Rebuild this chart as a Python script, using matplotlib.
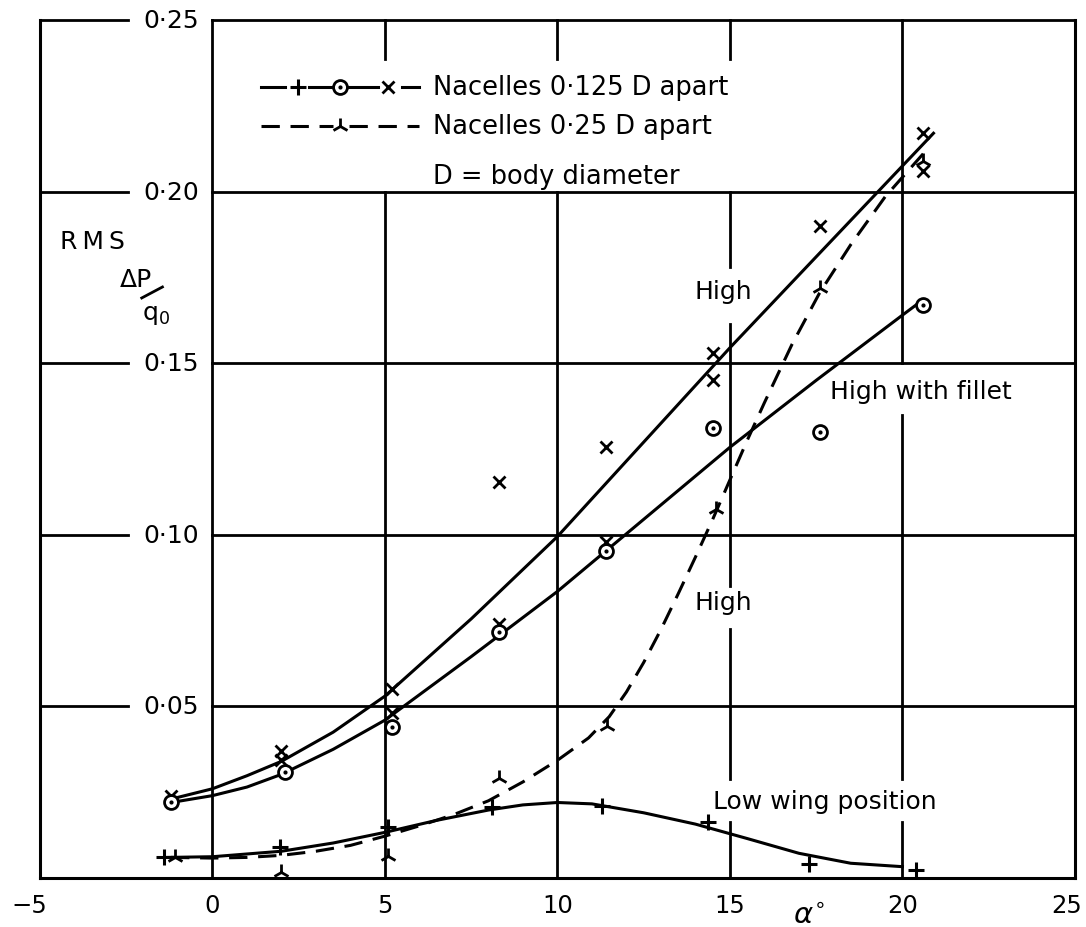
import matplotlib.pyplot as plt
import matplotlib.transforms as mtransforms

# ---------- data: alpha (deg) vs RMS dP/q0 ----------

# nacelles 0.125D apart, high wing (x markers)
high_x = [-1.2, 2.0, 5.2, 8.3, 11.4, 14.5, 14.5, 17.6, 20.6, 20.6]
high_y = [0.024, 0.037, 0.055, 0.1155, 0.1257, 0.153, 0.145, 0.190, 0.217, 0.206]
# x markers sitting on top of the fillet circles
high2_x = [2.0, 5.2, 8.3, 11.4]
high2_y = [0.0345, 0.048, 0.074, 0.098]
high_curve_x = [-1.2, 0, 1, 2, 3.5, 5, 7.5, 10, 12.5, 15, 17.5, 19.2, 20.9]
high_curve_y = [0.023, 0.026, 0.0298, 0.034, 0.0425, 0.053, 0.0755, 0.0995, 0.127, 0.1545,
                0.181, 0.199, 0.217]

# nacelles 0.125D apart, high wing with fillet (circles)
fillet_x = [-1.2, 2.1, 5.2, 8.3, 11.4, 14.5, 17.6, 20.6]
fillet_y = [0.022, 0.031, 0.044, 0.0717, 0.0953, 0.131, 0.130, 0.167]
fillet_curve_x = [-1.2, 0, 1, 2, 3.5, 5, 7.5, 10, 12.5, 15, 17.5, 20, 20.6]
fillet_curve_y = [0.022, 0.024, 0.0265, 0.0302, 0.0375, 0.046, 0.0645, 0.0835, 0.1045, 0.1255,
                  0.145, 0.164, 0.1685]

# nacelles 0.125D apart, low wing position (plus markers)
low_x = [-1.4, 1.95, 5.1, 8.1, 11.3, 14.35, 17.3, 20.4]
low_y = [0.006, 0.009, 0.0148, 0.0207, 0.021, 0.0163, 0.0041, 0.0023]
low_curve_x = [-1.3, 0, 2, 3.5, 5, 6.5, 8, 9, 10, 11, 12.5, 14, 15.5, 17, 18.5, 20]
low_curve_y = [0.006, 0.0062, 0.0078, 0.0102, 0.0133, 0.0168, 0.0198, 0.0213, 0.0220, 0.0216,
               0.0190, 0.0157, 0.0115, 0.0072, 0.0043, 0.0033]

# nacelles 0.25D apart, high wing (tri markers, dashed)
wide_x = [-1.1, 2.0, 5.1, 8.3, 11.45, 14.6, 17.6, 20.6]
wide_y = [0.006, 0.0017, 0.0064, 0.029, 0.0443, 0.1076, 0.172, 0.209]
wide_curve_x = [-1.2, 0, 1, 2, 3, 4, 5, 6, 7, 8, 9, 10, 10.9, 11.5, 12, 12.5, 13, 13.5,
                14, 14.5, 15, 15.5, 16, 16.8, 17.6, 18.5, 19.5, 20.6]
wide_curve_y = [0.006, 0.0058, 0.006, 0.0066, 0.0078, 0.0095, 0.0122, 0.0152, 0.0185, 0.0225,
                0.028, 0.0343, 0.0408, 0.0470, 0.0542, 0.0628, 0.0724, 0.0828, 0.0935, 0.1045,
                0.116, 0.1275, 0.1385, 0.1555, 0.1705, 0.1845, 0.1985, 0.211]

x_ticks = [-5, 0, 5, 10, 15, 20, 25]
x_labels = ["\u22125", "0", "5", "10", "15", "20", "25"]
y_ticks = [0.05, 0.10, 0.15, 0.20, 0.25]
y_labels = ["0\u00b705", "0\u00b710", "0\u00b715", "0\u00b720", "0\u00b725"]

# ---------- figure ----------
plt.rcParams["font.family"] = ["DejaVu Sans"]
LW = 2.2
FS = 18

fig = plt.figure(figsize=(10.86, 9.28), dpi=100)
ax = fig.add_axes([0.0368, 0.0528, 0.953, 0.9246])
ax.set_xlim(-5, 25)
ax.set_ylim(0, 0.25)

for side in ["left", "right", "bottom"]:
    ax.spines[side].set_linewidth(LW)
ax.spines["top"].set_visible(False)
ax.set_xticks([])
ax.set_yticks([])


def vline(x, spans):
    for y0, y1 in spans:
        ax.plot([x, x], [y0, y1], color="black", lw=2.0, clip_on=False, zorder=1)


def hline(y, spans):
    for x0, x1 in spans:
        ax.plot([x0, x1], [y, y], color="black", lw=2.0, clip_on=False, zorder=1)


# grid, broken where the labels sit
for v in y_ticks:
    hline(v, [(-5, -2.45), (0, 25)])
vline(0, [(0, 0.25)])
vline(5, [(0, 0.20), (0.2386, 0.25)])
vline(10, [(0, 0.20), (0.2386, 0.25)])
vline(15, [(0, 0.0163), (0.0288, 0.0725), (0.085, 0.1614), (0.178, 0.20), (0.2386, 0.25)])
vline(20, [(0, 0.0163), (0.0288, 0.135), (0.15, 0.25)])

# y labels sit inside the frame, x labels below it (end ones nudged in, in points)
for v, lab in zip(y_ticks, y_labels):
    ax.text(-1.2, v, lab, fontsize=FS, ha="center", va="center")
nudge = {0: -8, len(x_ticks) - 1: -6}
for i, (t, lab) in enumerate(zip(x_ticks, x_labels)):
    tr = mtransforms.offset_copy(ax.get_xaxis_transform(), fig=fig, x=nudge.get(i, 0), y=0,
                                 units="points")
    ax.text(t, -0.031, lab, fontsize=17.5, ha="center", va="center", transform=tr)

# ---------- curves ----------
ax.plot(high_curve_x, high_curve_y, color="black", lw=LW, zorder=3)
ax.plot(fillet_curve_x, fillet_curve_y, color="black", lw=LW, zorder=3)
ax.plot(low_curve_x, low_curve_y, color="black", lw=LW, zorder=3)
ax.plot(wide_curve_x, wide_curve_y, color="black", lw=LW, dashes=[6, 3.5], zorder=3)

# ---------- markers ----------
ax.plot(high_x, high_y, "x", color="black", ms=9, mew=2, zorder=4)
ax.plot(high2_x, high2_y, "x", color="black", ms=8, mew=2, zorder=4)
ax.plot(fillet_x, fillet_y, "o", mfc="white", mec="black", ms=10, mew=2, zorder=5)
ax.plot(fillet_x, fillet_y, ".", color="black", ms=4, zorder=6)
ax.plot(low_x, low_y, "+", color="black", ms=12, mew=2.2, zorder=4, clip_on=False)
ax.plot(wide_x, wide_y, "2", color="black", ms=12, mew=2, zorder=4, clip_on=False)

# ---------- key ----------
r1, r2, r3 = 0.2304, 0.219, 0.2045
for x0, x1 in [(1.4, 2.1), (2.8, 4.8), (5.5, 6.0)]:
    ax.plot([x0, x1], [r1, r1], color="black", lw=LW)
ax.plot([2.47], [r1], "+", color="black", ms=12, mew=2.2)
ax.plot([3.7], [r1], "o", mfc="white", mec="black", ms=10, mew=2, zorder=5)
ax.plot([3.7], [r1], ".", color="black", ms=4, zorder=6)
ax.plot([5.1], [r1], "x", color="black", ms=8, mew=2)
for x0, x1 in [(1.4, 3.5), (3.95, 6.0)]:
    ax.plot([x0, x1], [r2, r2], color="black", lw=LW, dashes=[6, 3.5])
ax.plot([3.7], [r2], "2", color="black", ms=12, mew=2)
ax.text(6.4, r1, "Nacelles 0\u00b7125 D apart", fontsize=18.5, va="center")
ax.text(6.4, r2, "Nacelles 0\u00b725 D apart", fontsize=18.5, va="center")
ax.text(6.4, r3, "D = body diameter", fontsize=18.5, va="center")

# ---------- curve labels ----------
ax.text(14.8, 0.171, "High", fontsize=FS, ha="center", va="center")
ax.text(14.8, 0.0804, "High", fontsize=FS, ha="center", va="center")
ax.text(17.9, 0.142, "High with fillet", fontsize=FS, va="center")
ax.text(14.5, 0.0224, "Low wing position", fontsize=FS, va="center")

# y axis caption
ax.text(-4.42, 0.1856, "R\u2009M\u2009S", fontsize=FS, va="center")
ax.text(-2.7, 0.1745, "\u0394P", fontsize=FS, va="center")
ax.plot([-2.05, -1.45], [0.1690, 0.1722], color="black", lw=2)
ax.text(-2.05, 0.1643, r"q$_{0}$", fontsize=FS, va="center")

# x axis caption
ax.text(17.3, -0.0105, r"$\alpha^{\circ}$", fontsize=21, ha="center", va="center")

fig.savefig("out.png", dpi=100)
